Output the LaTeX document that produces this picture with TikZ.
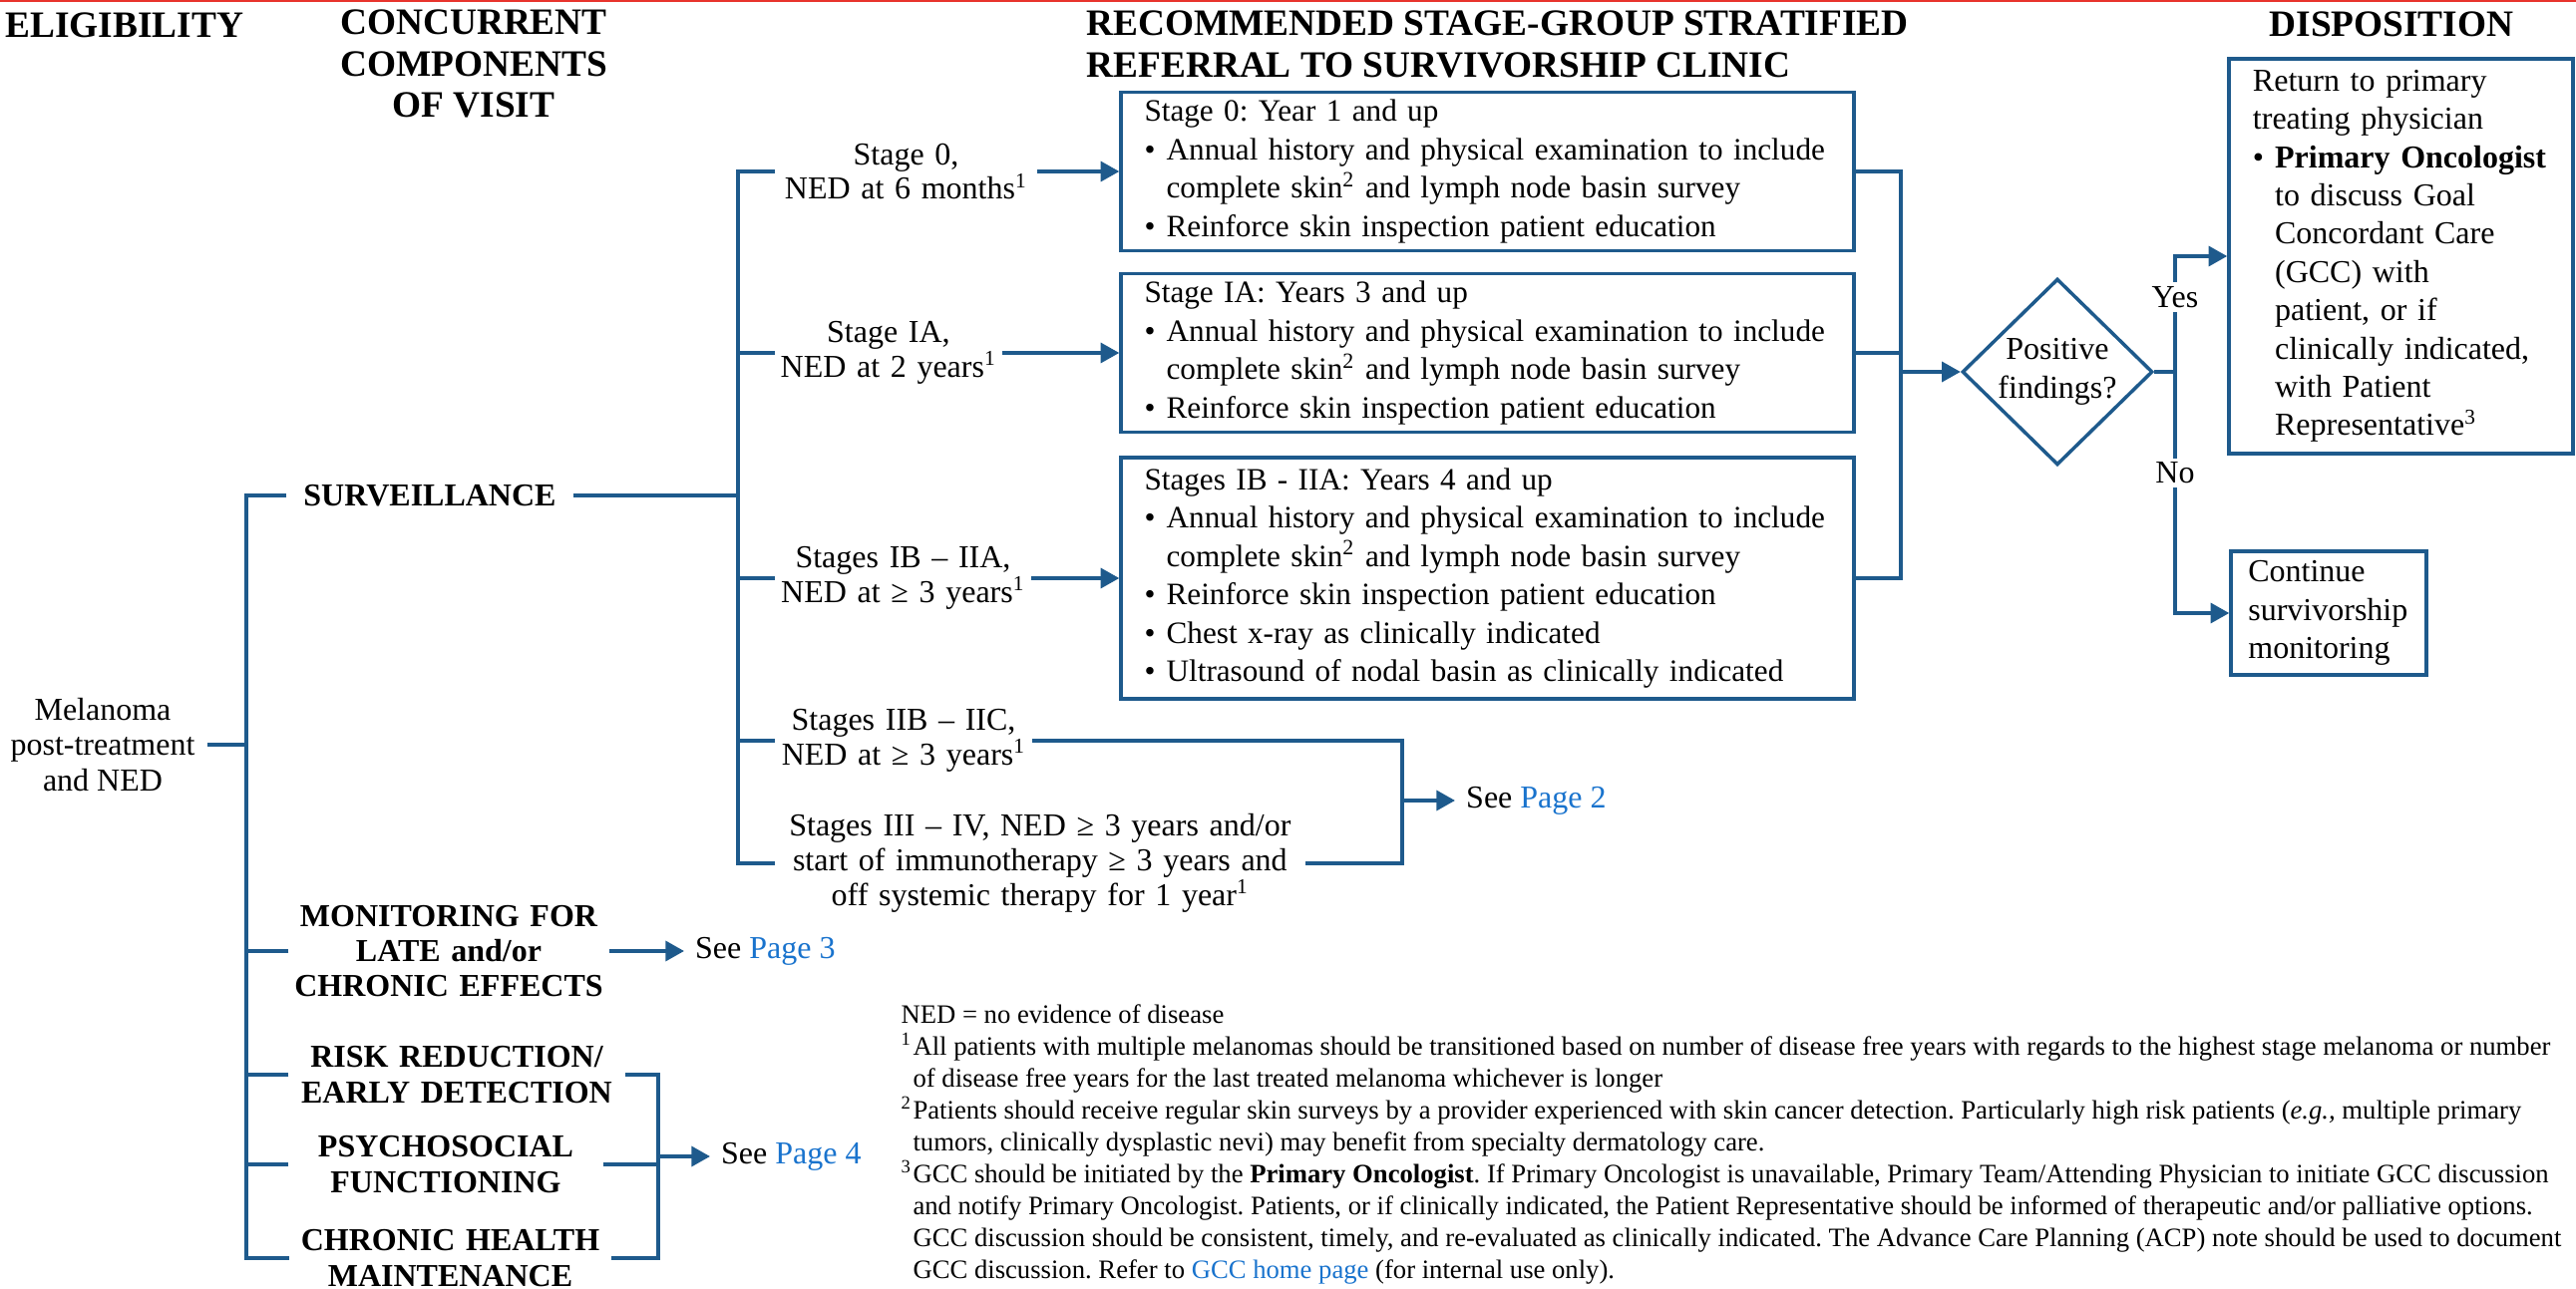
\documentclass[tikz,border=0pt]{standalone}
\usepackage{fontspec}
\setmainfont{Liberation Serif}
\usetikzlibrary{arrows.meta}
\usetikzlibrary{shapes.geometric}

\definecolor{flowblue}{RGB}{30,90,140}
\definecolor{linkblue}{RGB}{25,115,205}
\definecolor{topred}{RGB}{232,52,45}
\newcommand{\pagelink}[1]{\textcolor{linkblue}{#1}}
\newcommand{\bitem}{\makebox[8.3pt][l]{\textbullet}}
\newcommand{\notemark}[1]{\makebox[4.5pt][l]{\textsuperscript{#1}}}
\frenchspacing

\begin{document}
\begin{tikzpicture}[x=0.375pt, y=-0.375pt,
  hdr/.style={font=\fontsize{14}{15.5}\selectfont\bfseries, align=center, inner sep=0pt},
  comp/.style={font=\fontsize{12}{13.2}\selectfont\bfseries, align=center, inner sep=0pt},
  stagelbl/.style={font=\fontsize{12}{13}\selectfont, align=center, inner sep=0pt, anchor=west},
  refbox/.style={draw=flowblue, line width=1.3pt, font=\fontsize{11.7}{14.4}\selectfont, align=left, inner xsep=8.8pt, inner ysep=0pt},
  link/.style={draw=flowblue, line width=1.3pt},
  arr/.style={link, -{Triangle[length=7pt,width=7.5pt]}},
  seeref/.style={font=\fontsize{12}{14}\selectfont, anchor=west, inner xsep=4pt, inner ysep=0pt},
]
\useasboundingbox (0,0) rectangle (2583,1293);
\draw[topred, line width=1pt] (0,1) -- (2583,1);

\node[hdr, anchor=west] (hElig) at (5,25) {ELIGIBILITY};
\node[hdr] (hComp) at (475,64) {CONCURRENT\\COMPONENTS\\OF VISIT};
\node[hdr, anchor=west, align=left] (hRef) at (1089,44.5) {RECOMMENDED STAGE-GROUP STRATIFIED\\REFERRAL TO SURVIVORSHIP CLINIC};
\node[hdr] (hDisp) at (2398,24) {DISPOSITION};

\node[font=\fontsize{12}{13.2}\selectfont, align=center, inner xsep=4.5pt, inner ysep=0pt] (mel) at (103,747) {Melanoma\\post-treatment\\and NED};
\node[comp, text width=107.25pt] (surv) at (431,497) {SURVEILLANCE};
\node[comp, text width=120pt] (mon) at (450,954) {MONITORING FOR\\LATE and/or\\CHRONIC EFFECTS};
\node[comp, text width=126pt] (risk) at (458,1078) {RISK REDUCTION/\\EARLY DETECTION};
\node[comp, text width=117.75pt] (psy) at (447,1168) {PSYCHOSOCIAL\\FUNCTIONING};
\node[comp, text width=121pt] (chr) at (451.5,1262) {CHRONIC HEALTH\\MAINTENANCE};

\node[stagelbl, text width=98.25pt] (st0) at (777,172) {Stage 0,\\NED at 6 months\textsuperscript{1}};
\node[stagelbl, text width=85pt] (st1) at (777,354) {Stage IA,\\NED at 2 years\textsuperscript{1}};
\node[stagelbl, text width=96pt] (st2) at (777,580) {Stages IB – IIA,\\NED at ≥ 3 years\textsuperscript{1}};
\node[stagelbl, text width=96.4pt] (st3) at (777,743) {Stages IIB – IIC,\\NED at ≥ 3 years\textsuperscript{1}};
\node[stagelbl, text width=199pt] (st4) at (777,866) {Stages III – IV, NED ≥ 3 years and/or\\start of immunotherapy ≥ 3 years and\\off systemic therapy for 1 year\textsuperscript{1}};

\node[refbox, text width=258pt, minimum height=59.6pt] (box0) at (1491.5,172) {Stage 0: Year 1 and up\\
\bitem Annual history and physical examination to include\\
\hspace*{8.3pt}complete skin\textsuperscript{2} and lymph node basin survey\\
\bitem Reinforce skin inspection patient education};
\node[refbox, text width=258pt, minimum height=59.6pt] (box1) at (1491.5,354) {Stage IA: Years 3 and up\\
\bitem Annual history and physical examination to include\\
\hspace*{8.3pt}complete skin\textsuperscript{2} and lymph node basin survey\\
\bitem Reinforce skin inspection patient education};
\node[refbox, text width=258pt, minimum height=90.9pt] (box2) at (1491.5,580) {Stages IB - IIA: Years 4 and up\\
\bitem Annual history and physical examination to include\\
\hspace*{8.3pt}complete skin\textsuperscript{2} and lymph node basin survey\\
\bitem Reinforce skin inspection patient education\\
\bitem Chest x-ray as clinically indicated\\
\bitem Ultrasound of nodal basin as clinically indicated};

\node[diamond, draw=flowblue, line width=1.3pt, inner sep=0pt, minimum width=71.6pt, minimum height=70pt, align=center, font=\fontsize{12}{14.5}\selectfont] (dec) at (2063,373) {Positive\\findings?};

\node[refbox, font=\fontsize{12}{14.4}\selectfont, inner xsep=9pt, text width=111.4pt, minimum height=148.5pt] (ret) at (2407.5,257) {Return to primary\\
treating physician\\
\bitem\textbf{Primary Oncologist}\\
\hspace*{8.3pt}to discuss Goal\\
\hspace*{8.3pt}Concordant Care\\
\hspace*{8.3pt}(GCC) with\\
\hspace*{8.3pt}patient, or if\\
\hspace*{8.3pt}clinically indicated,\\
\hspace*{8.3pt}with Patient\\
\hspace*{8.3pt}Representative\textsuperscript{3}};
\node[refbox, font=\fontsize{12}{14.4}\selectfont, inner xsep=6.5pt, text width=60.5pt, minimum height=46.5pt] (cont) at (2335,615) {Continue\\survivorship\\monitoring};

\node[seeref] (see2) at (1459,803) {See \pagelink{Page 2}};
\node[seeref] (see3) at (686,954) {See \pagelink{Page 3}};
\node[seeref] (see4) at (712,1160) {See \pagelink{Page 4}};

\coordinate (lt) at (247,747);
\coordinate (sj) at (740,497);
\coordinate (cj) at (1906,373);
\coordinate (split) at (2181,373);
\coordinate (p2) at (1406,803);
\coordinate (p4) at (660,1160);

\draw[link] (mel.east) -- (lt);
\draw[link] (surv.west) -| (lt) |- (chr.west);
\draw[link] (mon.west) -- (mon.west -| lt);
\draw[link] (risk.west) -- (risk.west -| lt);
\draw[link] (psy.west) -- (psy.west -| lt);
\draw[arr] (mon.east) -- (see3.west);
\draw[link] (risk.east) -| (p4) |- (chr.east);
\draw[link] (psy.east) -- (psy.east -| p4);
\draw[arr] (p4) -- (see4.west);

\draw[link] (surv.east) -- (sj);
\draw[link] (st0.west) -| (sj) |- (st4.west);
\draw[link] (st1.west) -- (st1.west -| sj);
\draw[link] (st2.west) -- (st2.west -| sj);
\draw[link] (st3.west) -- (st3.west -| sj);
\draw[arr] (st0.east) -- (st0.east -| box0.west);
\draw[arr] (st1.east) -- (st1.east -| box1.west);
\draw[arr] (st2.east) -- (st2.east -| box2.west);
\draw[link] (st3.east) -| (p2) |- (st4.east);
\draw[arr] (p2) -- (see2.west);

\draw[link] (box0.east) -| (cj) |- (box2.east);
\draw[link] (box1.east) -- (box1.east -| cj);
\draw[arr] (cj) -- (dec.west);
\draw[link] (dec.east) -- (split);
\draw[arr] (split) |- (ret.west);
\draw[arr] (split) |- (cont.west);
\node[font=\fontsize{12}{14}\selectfont, fill=white, inner sep=1.5pt] (yes) at (2181,298) {Yes};
\node[font=\fontsize{12}{14}\selectfont, fill=white, inner sep=1.5pt] (no) at (2181,474.5) {No};

\node[anchor=north west, align=left, inner sep=0pt, font=\fontsize{10}{12}\selectfont] (notes) at (903,1007) {NED = no evidence of disease\\
\notemark{1}All patients with multiple melanomas should be transitioned based on number of disease free years with regards to the highest stage melanoma or number\\
\notemark{}of disease free years for the last treated melanoma whichever is longer\\
\notemark{2}Patients should receive regular skin surveys by a provider experienced with skin cancer detection. Particularly high risk patients (\textit{e.g.,} multiple primary\\
\notemark{}tumors, clinically dysplastic nevi) may benefit from specialty dermatology care.\\
\notemark{3}GCC should be initiated by the \textbf{Primary Oncologist}. If Primary Oncologist is unavailable, Primary Team/Attending Physician to initiate GCC discussion\\
\notemark{}and notify Primary Oncologist. Patients, or if clinically indicated, the Patient Representative should be informed of therapeutic and/or palliative options.\\
\notemark{}GCC discussion should be consistent, timely, and re-evaluated as clinically indicated. The Advance Care Planning (ACP) note should be used to document\\
\notemark{}GCC discussion. Refer to \pagelink{GCC home page} (for internal use only).};
\end{tikzpicture}
\end{document}
